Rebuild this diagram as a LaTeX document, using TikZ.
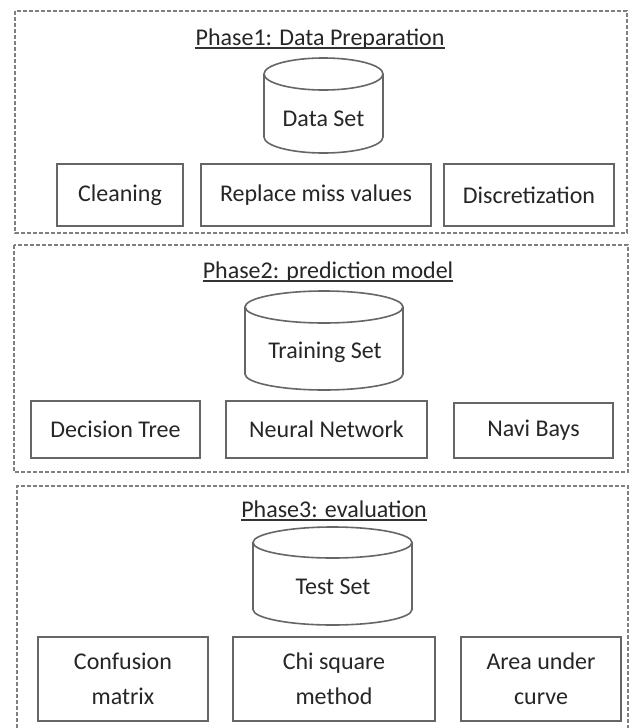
\documentclass[tikz,border=0pt]{standalone}
\usepackage{fontspec}
\setmainfont{Carlito}
\begin{document}
\begin{tikzpicture}[x=1pt,y=-1pt,
  every node/.style={font=\fontsize{24}{35}\selectfont, text=black!85},
  phase/.style={draw=black!50, line width=1.1pt, dash pattern=on 4pt off 2pt},
  item/.style={draw=black!60, line width=1.6pt, align=center, inner sep=0pt},
  cyl/.style={draw=black!60, line width=1.6pt},
  ttl/.style={anchor=base, inner sep=0pt},
  uline/.style={draw=black!80, line width=1.1pt}]
\useasboundingbox (0,0) rectangle (631,728);
\fill[white] (0,0) rectangle (631,728);

% Phase 1
\draw[phase] (15,11) rectangle (627,233);
\node[ttl] (t1) at (320,45) {Phase1: Data Preparation};
\draw[uline] ([yshift=-3pt]t1.base west) -- ([yshift=-3pt]t1.base east);
\draw[cyl] (323.5,74) ellipse [x radius=59.5, y radius=16];
\draw[cyl] (264,74) -- (264,137) arc [start angle=180, end angle=0, x radius=59.5, y radius=16] -- (383,74);
\node (c1) at (323.5,119) {Data Set};
\node[item, minimum width=126pt, minimum height=62pt] (clean) at (120,195) {Cleaning};
\node[item, minimum width=230pt, minimum height=62pt] (repl) at (316,195) {Replace miss values};
\node[item, minimum width=170pt, minimum height=62pt] (disc) at (529,195) {Discretization};

% Phase 2
\draw[phase] (14,245) rectangle (628,472);
\node[ttl] (t2) at (328,278) {Phase2: prediction model};
\draw[uline] ([yshift=-3pt]t2.base west) -- ([yshift=-3pt]t2.base east);
\draw[cyl] (324,307) ellipse [x radius=79, y radius=16];
\draw[cyl] (245,307) -- (245,374) arc [start angle=180, end angle=0, x radius=79, y radius=16] -- (403,307);
\node (c2) at (325,352) {Training Set};
\node[item, minimum width=169pt, minimum height=57pt] (dt) at (115.5,429.5) {Decision Tree};
\node[item, minimum width=201pt, minimum height=57pt] (nn) at (326.5,429.5) {Neural Network};
\node[item, minimum width=159pt, minimum height=55pt] (nb) at (533.5,430.5) {Navi Bays};

% Phase 3
\draw[phase] (17,740) -- (17,486) -- (628,486) -- (628,740);
\node[ttl] (t3) at (334,517) {Phase3: evaluation};
\draw[uline] ([yshift=-3pt]t3.base west) -- ([yshift=-3pt]t3.base east);
\draw[cyl] (332.5,542.5) ellipse [x radius=79.5, y radius=15.5];
\draw[cyl] (253,542.5) -- (253,609.5) arc [start angle=180, end angle=0, x radius=79.5, y radius=15.5] -- (412,542.5);
\node (c3) at (333,587) {Test Set};
\node[item, minimum width=170pt, minimum height=84pt] (cm) at (123,679) {Confusion\\matrix};
\node[item, minimum width=202pt, minimum height=84pt] (chi) at (334,679) {Chi square\\method};
\node[item, minimum width=160pt, minimum height=84pt] (auc) at (541,679) {Area under\\curve};
\end{tikzpicture}
\end{document}
